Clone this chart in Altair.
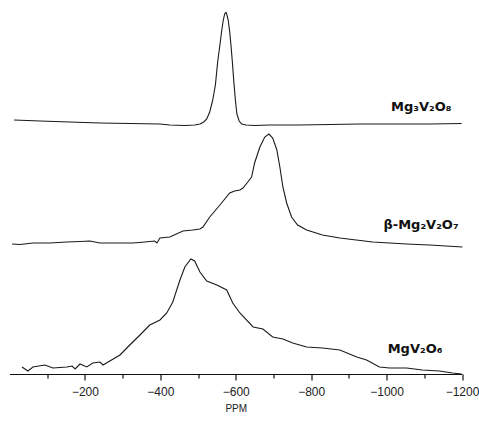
import altair as alt
import pandas as pd

# Mg3V2O8 trace (ppm, stacked signal height)
ppm_a = [-12, -81, -160, -240, -319, -399, -425, -465, -491, -505, -515, -523, -531, -539,
         -546, -552, -558, -563, -567, -571, -574, -576, -580, -584, -588, -591, -595, -599,
         -603, -609, -616, -627, -650, -690, -770, -849, -929, -1035, -1114, -1199]
sig_a = [254, 253, 252, 251, 250.5, 250, 249, 248.5, 249, 250, 252, 255, 262, 274,
         289, 312, 329, 344, 354, 360.5, 361.5, 360, 354, 342, 326, 312, 292, 274,
         260, 253, 250, 249, 248.5, 249, 249, 249.5, 250, 250, 250, 250.5]

# beta-Mg2V2O7 trace
ppm_b = [-7, -28, -62, -107, -152, -187, -213, -240, -279, -327, -359, -385, -391, -399,
         -425, -460, -486, -505, -513, -531, -558, -584, -597, -611, -619, -632, -642, -650,
         -664, -677, -688, -698, -709, -717, -725, -735, -748, -764, -788, -830, -876, -963,
         -1053, -1114, -1201]
sig_b = [130, 129.5, 131, 131, 132, 132.5, 133, 131, 131, 131, 132, 133, 131, 136,
         137, 143, 144, 145, 147, 157, 169, 181, 183, 184, 186, 192, 197, 211,
         227, 237, 240, 236, 224, 207, 187, 171, 157, 149, 144, 139, 136, 132,
         130, 129, 127]

# MgV2O6 trace
ppm_c = [-33, -49, -62, -94, -115, -152, -166, -174, -187, -205, -221, -240, -248, -266,
         -293, -319, -346, -372, -399, -417, -433, -452, -465, -481, -491, -505, -523, -550,
         -576, -592, -611, -646, -672, -698, -725, -751, -788, -830, -876, -921, -947, -981,
         -1008, -1053, -1095, -1140, -1175, -1199]
sig_c = [7, 3, 7, 9, 6, 7, 8, 5, 10, 7, 11, 12, 9, 13,
         19, 29, 39, 49, 54, 61, 72, 94, 107, 115, 113, 102, 93, 89,
         84, 71, 61, 47, 45, 37, 35, 31, 27, 26, 24, 17, 14, 7,
         6, 6, 4, 3, 1, 0]

names = ["Mg₃V₂O₈", "β-Mg₂V₂O₇", "MgV₂O₆"]
label_ppm = [-1172, -1191, -1148]
label_sig = [267, 149, 25]

rows = []
for name, xs, ys in zip(names, [ppm_a, ppm_b, ppm_c], [sig_a, sig_b, sig_c]):
    for x, y in zip(xs, ys):
        rows.append({"series": name, "ppm": x, "signal": y})
df = pd.DataFrame(rows)
lab = pd.DataFrame({"name": names, "ppm": label_ppm, "signal": label_sig})

x_scale = alt.Scale(domain=[-1200, 0], reverse=True, nice=False, zero=False)
y_scale = alt.Scale(domain=[0, 374], nice=False, zero=False)
tick_vals = list(range(-1200, 0, 50))

x_axis = alt.Axis(
    values=tick_vals,
    format="d",
    labelExpr="datum.value % 200 === 0 ? datum.label : ''",
    tickSize={"condition": {"test": "datum.value % 200 === 0", "value": 6}, "value": 4},
    grid=False,
    domainColor="#111",
    domainWidth=1.2,
    tickColor="#111",
    tickWidth=1.2,
    labelFont="Liberation Sans",
    labelFontSize=12,
    labelColor="#222",
    labelPadding=6,
    labelFlush=False,
    labelOverlap=False,
    titleFont="Liberation Sans",
    titleFontSize=10,
    titleFontWeight="normal",
    titleColor="#222",
    titlePadding=6,
)

lines = alt.Chart(df).mark_line(color="#1a1a1a", strokeWidth=1.1).encode(
    x=alt.X("ppm:Q", scale=x_scale, axis=x_axis, title="PPM"),
    y=alt.Y("signal:Q", scale=y_scale, axis=None),
    detail="series:N",
)

texts = alt.Chart(lab).mark_text(
    align="right", baseline="middle", font="DejaVu Sans",
    fontWeight="bold", fontSize=13, color="#111"
).encode(
    x=alt.X("ppm:Q", scale=x_scale),
    y=alt.Y("signal:Q", scale=y_scale),
    text="name:N",
)

chart = alt.layer(lines, texts).properties(
    width=452.5,
    height=374,
    padding={"left": 9.5, "top": 0, "right": 17, "bottom": 47},
    autosize=alt.AutoSizeParams(type="none"),
    background="white",
).configure_view(stroke=None)

chart.save("out.html", embed_options={"renderer": "svg", "actions": False})
